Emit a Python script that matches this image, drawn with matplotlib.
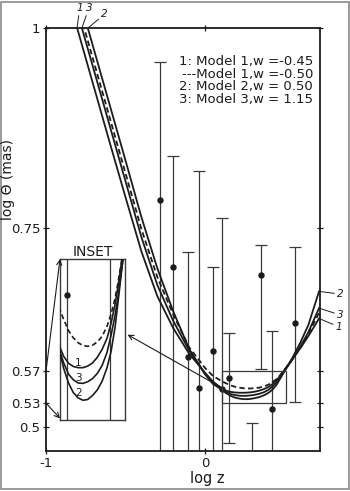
import matplotlib
matplotlib.use("Agg")
import matplotlib.pyplot as plt
from matplotlib.patches import Rectangle, ConnectionPatch
import numpy as np

plt.rcParams['font.family'] = ['DejaVu Sans']

# ---------------- data ----------------
log_z = [-0.85, -0.8, -0.7, -0.6, -0.5, -0.4, -0.3, -0.2, -0.1, 0.0, 0.05,
         0.11, 0.13, 0.16, 0.19, 0.22, 0.25, 0.28, 0.31, 0.34, 0.37, 0.40, 0.425, 0.45, 0.47, 0.49,
         0.55, 0.60, 0.65, 0.717]
model1_w045 = [1.032, 0.997, 0.927, 0.857, 0.788, 0.720, 0.664, 0.624, 0.592, 0.568, 0.557,
               0.5477, 0.5458, 0.5441, 0.5433, 0.5430, 0.5430, 0.5434, 0.5442, 0.5456, 0.5476,
               0.5503, 0.5540, 0.5587, 0.5636, 0.569,
               0.585, 0.599, 0.614, 0.636]
model1_w050 = [1.063, 1.028, 0.958, 0.888, 0.818, 0.748, 0.688, 0.641, 0.600, 0.574, 0.564,
               0.5570, 0.5550, 0.5522, 0.5504, 0.5492, 0.5485, 0.5483, 0.5486, 0.5494, 0.5508,
               0.5533, 0.5563, 0.5602, 0.5645, 0.5693,
               0.585, 0.600, 0.617, 0.643]
model2_w050 = [1.079, 1.044, 0.974, 0.904, 0.834, 0.763, 0.699, 0.645, 0.598, 0.566, 0.554,
               0.5462, 0.5428, 0.5392, 0.5368, 0.5355, 0.5349, 0.5351, 0.5361, 0.5375, 0.5397,
               0.5430, 0.5470, 0.5530, 0.5598, 0.5668,
               0.587, 0.606, 0.628, 0.670]
model3_w115 = [1.053, 1.018, 0.948, 0.878, 0.808, 0.738, 0.678, 0.633, 0.596, 0.567, 0.556,
               0.5466, 0.5442, 0.5414, 0.5400, 0.5392, 0.5391, 0.5395, 0.5403, 0.5416, 0.5436,
               0.5468, 0.5510, 0.5560, 0.5610, 0.5672,
               0.585, 0.601, 0.619, 0.649]

obs_logz = [-0.283, -0.201, -0.107, -0.038, 0.050, 0.107, 0.151, 0.296, 0.352, 0.421, 0.566]
obs_logt = [0.785, 0.701, 0.5875, 0.549, 0.595, 0.548, 0.561, 0.440, 0.690, 0.5225, 0.630]
obs_hi = [0.9575, 0.839, 0.719, 0.821, 0.701, 0.7625, 0.6175, 0.505, 0.7275, 0.620, 0.726]
obs_lo = [0.40, 0.40, 0.40, 0.40, 0.40, 0.40, 0.480, 0.38, 0.5725, 0.40, 0.531]

xticks = [-1, 0]
xtick_labels = ['-1', '0']
yticks = [0.5, 0.53, 0.57, 0.75, 1.0]
ytick_labels = ['0.5', '0.53', '0.57', '0.75', '1']

legend_lines = ['1: Model 1,w =-0.45', '---Model 1,w =-0.50',
                '2: Model 2,w = 0.50', '3: Model 3,w = 1.15']

XLIM = (-1.0, 0.723)
YLIM = (0.47, 1.0)
BOX_X = (0.107, 0.512)
BOX_Y = (0.53, 0.57)

W, H = 350, 491
def fx(px):
    return px / W
def fy(py):
    return 1 - py / H

INK = '#1c1c1c'
BAR = '#3a3a3a'

fig = plt.figure(figsize=(3.5, 4.91), dpi=100)
fig.patch.set_facecolor('white')
fig.add_artist(Rectangle((0.004, 0.004), 0.992, 0.992, transform=fig.transFigure,
                         fill=False, edgecolor='#8a8a8a', lw=1.2))

ax = fig.add_axes([fx(46), fy(451), fx(320) - fx(46), fy(28) - fy(451)])
lt = np.array(obs_logt)
yerr = [lt - np.array(obs_lo), np.array(obs_hi) - lt]

ax.errorbar(obs_logz, obs_logt, yerr=yerr, fmt='o', ms=3.6, color=BAR, mfc=INK, mec=INK,
            elinewidth=0.9, capsize=4.2, capthick=0.9, zorder=2)
ax.plot(log_z, model1_w045, color=INK, lw=1.3, zorder=3)
ax.plot(log_z, model2_w050, color=INK, lw=1.3, zorder=3)
ax.plot(log_z, model3_w115, color=INK, lw=1.3, zorder=3)
ax.plot(log_z, model1_w050, color=INK, lw=1.3, ls=(0, (3, 1.8)), zorder=3)

ax.set_xlim(*XLIM)
ax.set_ylim(*YLIM)
ax.set_xticks(xticks)
ax.set_xticklabels(xtick_labels)
ax.set_yticks(yticks)
ax.set_yticklabels(ytick_labels)
ax.tick_params(direction='inout', length=5, width=0.9, top=True, right=True,
               labelsize=9.5, pad=1.5, colors=INK)
ax.tick_params(axis='x', pad=2)
for s in ax.spines.values():
    s.set_linewidth(1.3)
    s.set_color(INK)

ax.add_patch(Rectangle((BOX_X[0], BOX_Y[0]), BOX_X[1] - BOX_X[0], BOX_Y[1] - BOX_Y[0],
                       fill=False, edgecolor=BAR, lw=0.9, zorder=4))

# legend text (one block, right aligned)
fig.text(fx(313), fy(80.5), '\n'.join(legend_lines), ha='right', va='center',
         multialignment='right', linespacing=0.95, fontsize=9.5, color=INK)

# curve labels at top
top_x = [-0.805, -0.774, -0.736]
for lab, x0, off in zip(['1', '3', '2'], top_x, [(2, 14.5), (5, 14.5), (12, 10)]):
    ax.annotate(lab, xy=(x0, 1.0), xytext=off, textcoords='offset points',
                fontsize=7.5, style='italic', color=INK, ha='center', va='center',
                annotation_clip=False,
                arrowprops=dict(arrowstyle='-', lw=0.7, color=INK, shrinkA=0, shrinkB=0))
# curve labels at right
for lab, yv, off in zip(['2', '3', '1'], [model2_w050[-1], model3_w115[-1], model1_w045[-1]],
                        [(13, -2), (13, -5), (12, -6)]):
    ax.annotate(lab, xy=(log_z[-1], yv), xytext=off, textcoords='offset points',
                fontsize=7.5, style='italic', color=INK, ha='left', va='center',
                annotation_clip=False,
                arrowprops=dict(arrowstyle='-', lw=0.7, color=INK, shrinkA=0, shrinkB=0))

fig.text(fx(8), fy(180), 'log Θ (mas)', rotation=90, ha='center', va='center',
         fontsize=10, color=INK)
fig.text(fx(207), fy(478), 'log z', ha='center', va='center', fontsize=10.5, color=INK)

# inset
sel = [i for i, x in enumerate(obs_logz) if BOX_X[0] < x < BOX_X[1]]
axi = fig.add_axes([fx(60), fy(420), fx(125) - fx(60), fy(259) - fy(420)])
axi.vlines([obs_logz[i] for i in sel], [obs_lo[i] for i in sel], [obs_hi[i] for i in sel],
           color=BAR, lw=0.9, zorder=2)
axi.plot([obs_logz[i] for i in sel], [obs_logt[i] for i in sel],
         'o', ms=3.6, color=INK, zorder=2)
axi.plot(log_z, model1_w045, color=INK, lw=1.2, zorder=3)
axi.plot(log_z, model2_w050, color=INK, lw=1.2, zorder=3)
axi.plot(log_z, model3_w115, color=INK, lw=1.2, zorder=3)
axi.plot(log_z, model1_w050, color=INK, lw=1.2, ls=(0, (3, 1.8)), zorder=3)
axi.set_xlim(*BOX_X)
axi.set_ylim(*BOX_Y)
axi.set_xticks([]); axi.set_yticks([])
for s in axi.spines.values():
    s.set_linewidth(1.0)
    s.set_color(BAR)
for lab, yv in zip(['1', '3', '2'], [0.5442, 0.5405, 0.5368]):
    axi.text(0.222, yv, lab, fontsize=7.5, ha='center', va='center', color=INK)
fig.text(fx(93), fy(252), 'INSET', ha='center', va='center', fontsize=10, color=INK)

arr = dict(arrowstyle='->,head_length=0.35,head_width=0.18', lw=0.8, color=INK)
fig.add_artist(ConnectionPatch(xyA=(XLIM[0], BOX_Y[1]), coordsA='data', axesA=ax,
                               xyB=(0, 1), coordsB='axes fraction', axesB=axi, **arr))
fig.add_artist(ConnectionPatch(xyA=(XLIM[0], BOX_Y[0]), coordsA='data', axesA=ax,
                               xyB=(0, 0.01), coordsB='axes fraction', axesB=axi, **arr))
fig.add_artist(ConnectionPatch(xyA=(BOX_X[0], 0.549), coordsA='data', axesA=ax,
                               xyB=(1.04, 0.53), coordsB='axes fraction', axesB=axi, **arr))

fig.savefig('out.png', dpi=100)
